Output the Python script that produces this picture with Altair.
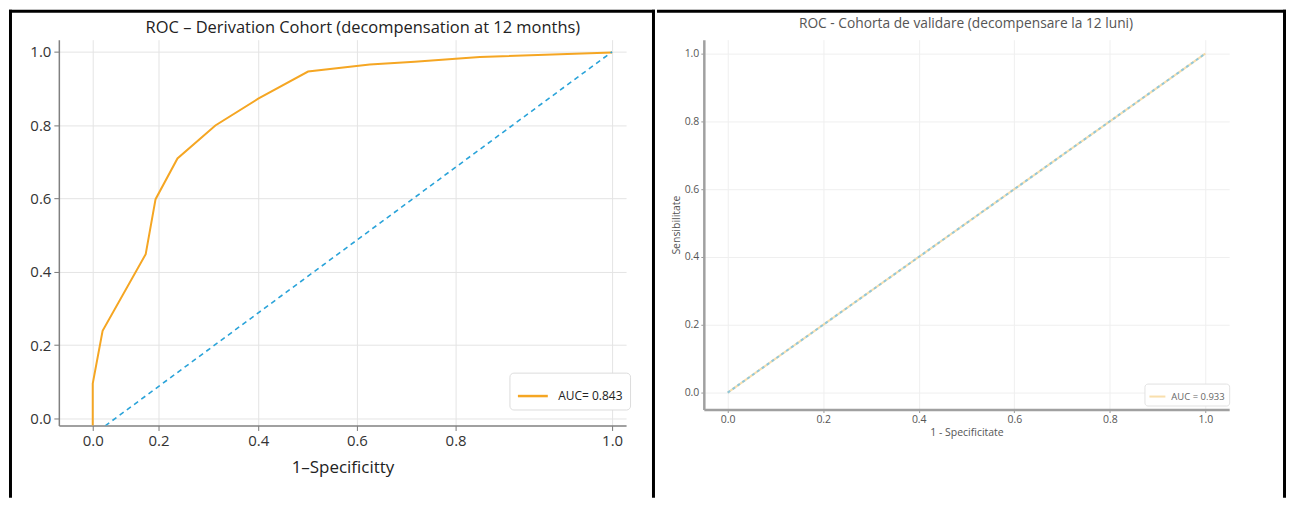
import altair as alt
import pandas as pd

# ---------------- data ----------------
tick_values = [0.0, 0.2, 0.4, 0.6, 0.8, 1.0]

# Derivation cohort ROC curve (left panel)
der_fpr = [0.0, 0.0, 0.030, 0.161, 0.191, 0.238, 0.314, 0.400, 0.501, 0.626, 0.717, 0.800, 0.831, 1.000]
der_tpr = [-0.02, 0.095, 0.239, 0.448, 0.598, 0.709, 0.799, 0.872, 0.946, 0.965, 0.973, 0.981, 0.986, 0.998]
der_label = "AUC= 0.843"
der_title = "ROC \u2013 Derivation Cohort (decompensation at 12 months)"

# chance diagonal (left panel)
diag_left_x = [-0.02, 1.0]
diag_left_y = [-0.02, 1.0]

# Validation cohort ROC curve (right panel)
val_fpr = [0.0, 1.0]
val_tpr = [0.0, 1.0]
val_label = "AUC = 0.933"
val_title = "ROC - Cohorta de validare (decompensare la 12 luni)"

# chance diagonal (right panel)
diag_right_x = [0.0, 1.0]
diag_right_y = [0.0, 1.0]

ORANGE = "#f5a623"
BLUE = "#2aa3d9"
FONT = "Open Sans"

one = alt.Data(values=[{}])

# ---------------- left panel ----------------
WL, HL = 569, 387

der_df = pd.DataFrame({"fpr": der_fpr, "tpr": der_tpr, "series": der_label})
diagL_df = pd.DataFrame({"dx": diag_left_x, "tpr": diag_left_y})

yL_scale = alt.Scale(domain=[-0.019, 1.033], nice=False, zero=False)
yL_axis = alt.Axis(values=tick_values, format=".1f", title=None, labelFont=FONT,
                   labelFontSize=15, labelColor="#333", tickColor="#777", tickSize=5,
                   domainColor="#808080", domainWidth=1.5, gridColor="#e4e4e4",
                   labelPadding=3)
xL_scale = alt.Scale(domain=[-0.105, 0.0, 0.2, 0.4, 0.6, 0.8, 1.0, 1.018],
                     range=[0, 34, 100, 200, 299, 398, 555, 569], nice=False, zero=False)
xL_axis = alt.Axis(values=tick_values, format=".1f", title="1\u2013Specificitty",
                   labelFont=FONT, labelFontSize=15, labelColor="#333", tickColor="#777",
                   tickSize=5, domainColor="#808080", domainWidth=1.5, gridColor="#e4e4e4",
                   titleFont=FONT, titleFontSize=17, titleFontWeight="normal",
                   titleColor="#222", titlePadding=11, labelPadding=3, labelFlush=False)

roc_left = alt.Chart(der_df).mark_line(strokeWidth=2, clip=True).encode(
    x=alt.X("fpr:Q", scale=xL_scale, axis=xL_axis),
    y=alt.Y("tpr:Q", scale=yL_scale, axis=yL_axis),
    color=alt.Color("series:N", scale=alt.Scale(domain=[der_label], range=[ORANGE]),
                    legend=alt.Legend(title=None, orient="none", legendX=452, legendY=334,
                                      symbolType="stroke", symbolSize=900,
                                      symbolStrokeWidth=2.5, labelFont=FONT,
                                      labelFontSize=12, labelColor="#222",
                                      strokeColor="#dcdcdc", fillColor="white",
                                      padding=7, cornerRadius=4, labelOffset=9)),
    order=alt.Order("fpr:Q"),
)

diag_left = alt.Chart(diagL_df).mark_line(strokeWidth=1.6, strokeDash=[5, 4], color=BLUE,
                                          clip=True).encode(
    x=alt.X("dx:Q", scale=alt.Scale(domain=[-0.1133, 1.0281], nice=False, zero=False), axis=None),
    y=alt.Y("tpr:Q", scale=yL_scale, axis=yL_axis),
)

title_left = alt.Chart(one).mark_text(font=FONT, fontSize=16.5, color="#222",
                                      align="center", baseline="middle").encode(
    x=alt.value(305), y=alt.value(-12), text=alt.value(der_title))

bL_left = alt.Chart(one).mark_rule(color="black", strokeWidth=3, strokeCap="square").encode(
    x=alt.value(-48.5), y=alt.value(-28.5), y2=alt.value(458))
bL_top = alt.Chart(one).mark_rule(color="black", strokeWidth=3, strokeCap="square").encode(
    x=alt.value(-48.5), x2=alt.value(596.5), y=alt.value(-28.5))
bL_mid = alt.Chart(one).mark_rule(color="black", strokeWidth=3, strokeCap="square").encode(
    x=alt.value(596.5), y=alt.value(-28.5), y2=alt.value(458))

left = alt.layer(roc_left, diag_left, title_left, bL_left, bL_top, bL_mid).resolve_scale(
    x="independent"
).properties(width=WL, height=HL)

# ---------------- right panel ----------------
WR, HR = 527, 371

val_df = pd.DataFrame({"fpr": val_fpr, "tpr": val_tpr, "series": val_label})
diagR_df = pd.DataFrame({"fpr": diag_right_x, "tpr": diag_right_y})

xR_scale = alt.Scale(domain=[-0.05, 1.05], nice=False, zero=False)
yR_scale = alt.Scale(domain=[-0.05, 1.041], nice=False, zero=False)
xR_axis = alt.Axis(values=tick_values, format=".1f", title="1 - Specificitate",
                   labelFont=FONT, labelFontSize=10.5, labelColor="#555", tickColor="#999",
                   tickSize=3, domainColor="#a0a0a0", domainWidth=2.5, gridColor="#efefef",
                   titleFont=FONT, titleFontSize=10.5, titleFontWeight="normal",
                   titleColor="#555", titlePadding=3, labelPadding=2, labelFlush=False)
yR_axis = alt.Axis(values=tick_values, format=".1f", title="Sensibilitate",
                   labelFont=FONT, labelFontSize=10.5, labelColor="#555", tickColor="#999",
                   tickSize=3, domainColor="#a0a0a0", domainWidth=2.5, gridColor="#efefef",
                   titleFont=FONT, titleFontSize=10.5, titleFontWeight="normal",
                   titleColor="#555", titlePadding=3, labelPadding=2)

roc_right = alt.Chart(val_df).mark_line(strokeWidth=2, opacity=0.45).encode(
    x=alt.X("fpr:Q", scale=xR_scale, axis=xR_axis),
    y=alt.Y("tpr:Q", scale=yR_scale, axis=yR_axis),
    color=alt.Color("series:N", scale=alt.Scale(domain=[val_label], range=["#f2b94a"]),
                    legend=alt.Legend(title=None, orient="none", legendX=442, legendY=345,
                                      symbolType="stroke", symbolSize=256,
                                      symbolStrokeWidth=2, labelFont=FONT,
                                      labelFontSize=9.5, labelColor="#666",
                                      strokeColor="#e2e2e2", fillColor="white",
                                      padding=4, cornerRadius=3, labelOffset=5)),
)

diag_right = alt.Chart(diagR_df).mark_line(strokeWidth=2, strokeDash=[3, 3], color="#7ec3e3",
                                           opacity=0.85).encode(
    x=alt.X("fpr:Q", scale=xR_scale, axis=xR_axis),
    y=alt.Y("tpr:Q", scale=yR_scale, axis=yR_axis),
)

title_right = alt.Chart(one).mark_text(font=FONT, fontSize=13.8, color="#555",
                                       align="center", baseline="middle").encode(
    x=alt.value(263), y=alt.value(-16), text=alt.value(val_title))

bR_top = alt.Chart(one).mark_rule(color="black", strokeWidth=3, strokeCap="square").encode(
    x=alt.value(-45.5), x2=alt.value(582.5), y=alt.value(-28.5))
bR_right = alt.Chart(one).mark_rule(color="black", strokeWidth=3, strokeCap="square").encode(
    x=alt.value(582.5), y=alt.value(-28.5), y2=alt.value(458))

right = alt.layer(roc_right, diag_right, title_right, bR_top, bR_right).properties(
    width=WR, height=HR)

chart = alt.hconcat(left, right, spacing=0).resolve_scale(
    color="independent"
).resolve_legend(color="independent").properties(
    padding=0, background="white"
).configure_view(stroke=None)

chart.save("out.html", embed_options={"renderer": "svg", "actions": False})
